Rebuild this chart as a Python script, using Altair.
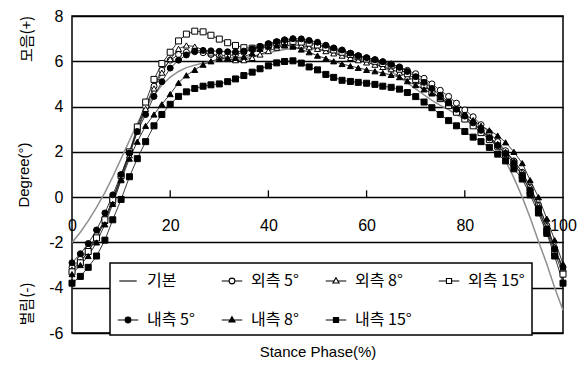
import altair as alt
import pandas as pd

# ---------------- data ----------------
x_pct = [0, 1.7, 3.3, 5, 6.7, 8.3, 10, 11.7, 13.3, 15,
         16.7, 18.3, 20, 21.7, 23.3, 25, 26.7, 28.3, 30, 31.7,
         33.3, 35, 36.7, 38.3, 40, 41.7, 43.3, 45, 46.7, 48.3,
         50, 51.7, 53.3, 55, 56.7, 58.3, 60, 61.7, 63.3, 65,
         66.7, 68.3, 70, 71.7, 73.3, 75, 76.7, 78.3, 80, 81.7,
         83.3, 85, 86.7, 88.3, 90, 91.7, 93.3, 95, 96.7, 98.3,
         100]

base = [-2.0, -1.55, -1.05, -0.45, 0.2, 0.9, 1.7, 2.5, 3.25, 3.95,
        4.5, 4.95, 5.3, 5.55, 5.72, 5.83, 5.92, 5.98, 6.02, 6.05,
        6.1, 6.15, 6.22, 6.3, 6.38, 6.45, 6.52, 6.57, 6.6, 6.58,
        6.52, 6.45, 6.38, 6.3, 6.22, 6.13, 6.02, 5.9, 5.75, 5.55,
        5.3, 5.05, 4.78, 4.52, 4.27, 4.05, 3.87, 3.65, 3.45, 3.25,
        2.95, 2.6, 2.2, 1.6, 0.85, 0.0, -0.9, -1.95, -2.95, -4.0,
        -5.0]

out5 = [-3.1, -2.75, -2.3, -1.7, -0.95, -0.1, 0.9, 1.95, 3.0, 4.0,
        4.9, 5.6, 6.05, 6.3, 6.4, 6.42, 6.38, 6.3, 6.25, 6.25,
        6.3, 6.4, 6.52, 6.62, 6.72, 6.8, 6.88, 6.92, 6.9, 6.85,
        6.75, 6.65, 6.55, 6.45, 6.35, 6.25, 6.15, 6.07, 5.98, 5.88,
        5.75, 5.6, 5.45, 5.25, 5.0, 4.72, 4.45, 4.15, 3.85, 3.55,
        3.2, 2.85, 2.45, 2.05, 1.6, 1.1, 0.45, -0.35, -1.25, -2.25,
        -3.25]

out8 = [-3.2, -2.85, -2.4, -1.8, -1.05, -0.2, 0.8, 1.85, 2.9, 3.9,
        4.8, 5.5, 6.1, 6.55, 6.7, 6.65, 6.5, 6.35, 6.2, 6.1,
        6.05, 6.05, 6.15, 6.3, 6.45, 6.6, 6.7, 6.72, 6.7, 6.62,
        6.55, 6.45, 6.35, 6.25, 6.15, 6.05, 5.95, 5.85, 5.75, 5.65,
        5.5, 5.32, 5.12, 4.9, 4.65, 4.38, 4.1, 3.8, 3.55, 3.25,
        2.95, 2.65, 2.35, 2.0, 1.6, 1.1, 0.45, -0.35, -1.25, -2.2,
        -3.2]

out15 = [-3.3, -2.9, -2.4, -1.8, -1.0, -0.1, 0.95, 2.0, 3.1, 4.2,
         5.2, 5.9, 6.4, 6.9, 7.2, 7.33, 7.3, 7.15, 6.98, 6.82,
         6.7, 6.6, 6.58, 6.62, 6.72, 6.82, 6.87, 6.88, 6.85, 6.8,
         6.72, 6.6, 6.5, 6.4, 6.3, 6.2, 6.1, 6.0, 5.9, 5.8,
         5.65, 5.45, 5.2, 4.95, 4.65, 4.35, 4.05, 3.75, 3.45, 3.15,
         2.85, 2.55, 2.25, 1.9, 1.5, 0.95, 0.25, -0.55, -1.5, -2.45,
         -3.4]

in5 = [-2.9, -2.5, -2.05, -1.45, -0.7, 0.1, 1.0, 1.95, 2.9, 3.65,
       4.45, 5.1, 5.7, 6.05, 6.28, 6.45, 6.48, 6.46, 6.44, 6.42,
       6.41, 6.45, 6.55, 6.66, 6.78, 6.87, 6.95, 7.0, 6.99, 6.92,
       6.84, 6.71, 6.59, 6.5, 6.36, 6.24, 6.16, 6.07, 5.98, 5.86,
       5.73, 5.55, 5.32, 5.07, 4.8, 4.5, 4.2, 3.88, 3.58, 3.28,
       2.95, 2.62, 2.28, 1.92, 1.5, 0.95, 0.3, -0.5, -1.4, -2.3,
       -3.1]

in8 = [-3.4, -3.0, -2.6, -2.0, -1.2, -0.3, 0.75, 1.7, 2.45, 3.15,
       3.65, 4.1, 4.55, 5.05, 5.38, 5.62, 5.85, 6.0, 6.1, 6.15,
       6.15, 6.2, 6.35, 6.55, 6.65, 6.7, 6.72, 6.65, 6.52, 6.4,
       6.25, 6.12, 6.0, 5.88, 5.79, 5.71, 5.62, 5.56, 5.48, 5.4,
       5.3, 5.12, 4.95, 4.76, 4.58, 4.4, 4.15, 3.9, 3.65, 3.4,
       3.15, 2.95, 2.72, 2.42, 2.0, 1.5, 0.75, 0.0, -0.95, -1.9,
       -2.95]

in15 = [-3.8, -3.5, -3.1, -2.6, -1.9, -1.0, -0.1, 0.9, 1.7, 2.45,
        3.15, 3.65, 4.1, 4.45, 4.65, 4.8, 4.9, 4.96, 5.0, 5.1,
        5.22, 5.37, 5.52, 5.67, 5.8, 5.93, 5.99, 6.02, 5.92, 5.75,
        5.62, 5.42, 5.29, 5.16, 5.11, 5.07, 5.03, 4.98, 4.9, 4.85,
        4.77, 4.62, 4.44, 4.2, 3.95, 3.65, 3.38, 3.15, 2.9, 2.65,
        2.45, 2.2, 1.9, 1.6, 1.25, 0.8, 0.1, -0.7, -1.6, -2.6,
        -3.8]

series_names = ["기본", "외측 5°", "외측 8°", "외측 15°", "내측 5°", "내측 8°", "내측 15°"]
marker_names = series_names[1:]
y_ticks = [-6, -4, -2, 0, 2, 4, 6, 8]
x_ticks = [0, 20, 40, 60, 80, 100]
inner_ticks = [20, 40, 60, 80]

rows = []
for name, vals in zip(series_names, [base, out5, out8, out15, in5, in8, in15]):
    for xv, yv in zip(x_pct, vals):
        rows.append({"x": xv, "y": yv, "series": name})
df = pd.DataFrame(rows)

# ---------------- encodings ----------------
FONT = "Liberation Sans"
KFONT = "Noto Sans CJK KR"

x_enc = alt.X("x:Q", scale=alt.Scale(domain=[0, 100], nice=False),
              axis=alt.Axis(values=x_ticks, grid=False, domain=False, ticks=False,
                            labelFlush=False,
                            offset=-135, labelPadding=19, labelFontSize=16,
                            labelFont=FONT, labelColor="black",
                            title="Stance Phase(%)", titleFont=FONT, titleFontSize=15,
                            titleFontWeight="normal", titleColor="black",
                            titlePadding=111))
y_enc = alt.Y("y:Q", scale=alt.Scale(domain=[-6, 8], nice=False),
              axis=alt.Axis(values=y_ticks, grid=True, gridColor="black", gridWidth=1.3,
                            gridOpacity=1, domain=False, ticks=False, labelPadding=9,
                            labelFontSize=16, labelFont=FONT, labelColor="black",
                            labelExpr="'' + datum.value",
                            title="Degree(°)", titleFont=FONT, titleFontSize=15,
                            titleFontWeight="normal", titleColor="black",
                            titlePadding=17))

base_line = alt.Chart(df).transform_filter(alt.datum.series == "기본").mark_line(
    color="#8f8f8f", strokeWidth=1.5).encode(x=x_enc, y=y_enc)

marker_lines = alt.Chart(df).transform_filter(alt.datum.series != "기본").mark_line(
    color="#222222", strokeWidth=0.9).encode(x=x_enc, y=y_enc, detail="series:N")

points = alt.Chart(df).transform_filter(alt.datum.series != "기본").mark_point(
    filled=True, stroke="black", strokeWidth=1, size=36, opacity=1).encode(
    x=x_enc, y=y_enc,
    shape=alt.Shape("series:N", scale=alt.Scale(
        domain=marker_names,
        range=["circle", "triangle-up", "square", "circle", "triangle-up", "square"]),
        legend=None),
    fill=alt.Fill("series:N", scale=alt.Scale(
        domain=marker_names,
        range=["white", "white", "white", "black", "black", "black"]),
        legend=None),
)

# small tick marks on the zero line
tick_df = pd.DataFrame({"t": inner_ticks})
ticks = alt.Chart(tick_df).mark_rule(color="black", strokeWidth=1.3).encode(
    x="t:Q", y=alt.datum(0), y2=alt.datum(0.3))

# legend (custom symbols with line segments)
legend_paths = [
    "M-0.85,0L0.85,0",
    "M-1,0L-0.28,0M0.28,0L1,0M-0.28,0A0.28,0.28 0 1,0 0.28,0A0.28,0.28 0 1,0 -0.28,0Z",
    "M-1,0L-0.18,0M0.18,0L1,0M0,-0.32L0.3,0.2L-0.3,0.2Z",
    "M-1,0L-0.25,0M0.25,0L1,0M-0.25,-0.25L0.25,-0.25L0.25,0.25L-0.25,0.25Z",
    "M-1,0L1,0M-0.28,0A0.28,0.28 0 1,0 0.28,0A0.28,0.28 0 1,0 -0.28,0Z",
    "M-1,0L1,0M0,-0.32L0.3,0.2L-0.3,0.2Z",
    "M-1,0L1,0M-0.25,-0.25L0.25,-0.25L0.25,0.25L-0.25,0.25Z",
]
legend_fill = ["white", "white", "white", "white", "black", "black", "black"]
legend_stroke = ["black"] * 7

leg = alt.Legend(title=None, orient="none", legendX=38, legendY=247, columns=4,
                 direction="horizontal",
                 symbolSize=420, symbolStrokeWidth=1.1, symbolStrokeColor="black",
                 labelFont=KFONT, labelFontSize=16, labelColor="black", labelOffset=8,
                 rowPadding=20, columnPadding=24, padding=7,
                 fillColor="white", strokeColor="black")

legend_layer = alt.Chart(df).transform_filter(alt.datum.x > 1000).mark_point(
    filled=False, strokeWidth=1.1, size=420, opacity=1).encode(
    x=x_enc, y=y_enc,
    shape=alt.Shape("series:N", scale=alt.Scale(domain=series_names, range=legend_paths),
                    legend=leg),
    fill=alt.Fill("series:N", scale=alt.Scale(domain=series_names, range=legend_fill),
                  legend=leg),
    stroke=alt.Stroke("series:N", scale=alt.Scale(domain=series_names, range=legend_stroke),
                      legend=leg),
)

side_df = pd.DataFrame({"t": ["모음(+)"]})
side_top = alt.Chart(side_df).mark_text(angle=270, font=KFONT, fontSize=15, color="black").encode(
    text="t:N", x=alt.value(-45), y=alt.value(23))
side_df2 = pd.DataFrame({"t": ["벌림(-)"]})
side_bot = alt.Chart(side_df2).mark_text(angle=270, font=KFONT, fontSize=15, color="black").encode(
    text="t:N", x=alt.value(-45), y=alt.value(288))

chart = alt.layer(base_line, marker_lines, ticks, points, legend_layer, side_top, side_bot).resolve_scale(
    shape="independent", fill="independent", stroke="independent"
).properties(
    width=491, height=317,
    autosize=alt.AutoSizeParams(type="none"),
    padding={"left": 64, "top": 8, "right": 17, "bottom": 28},
).configure_view(stroke="black", strokeWidth=1.5).configure_legend(strokeWidth=1.5)

chart.save("out.html", embed_options={"renderer": "svg", "actions": False})
